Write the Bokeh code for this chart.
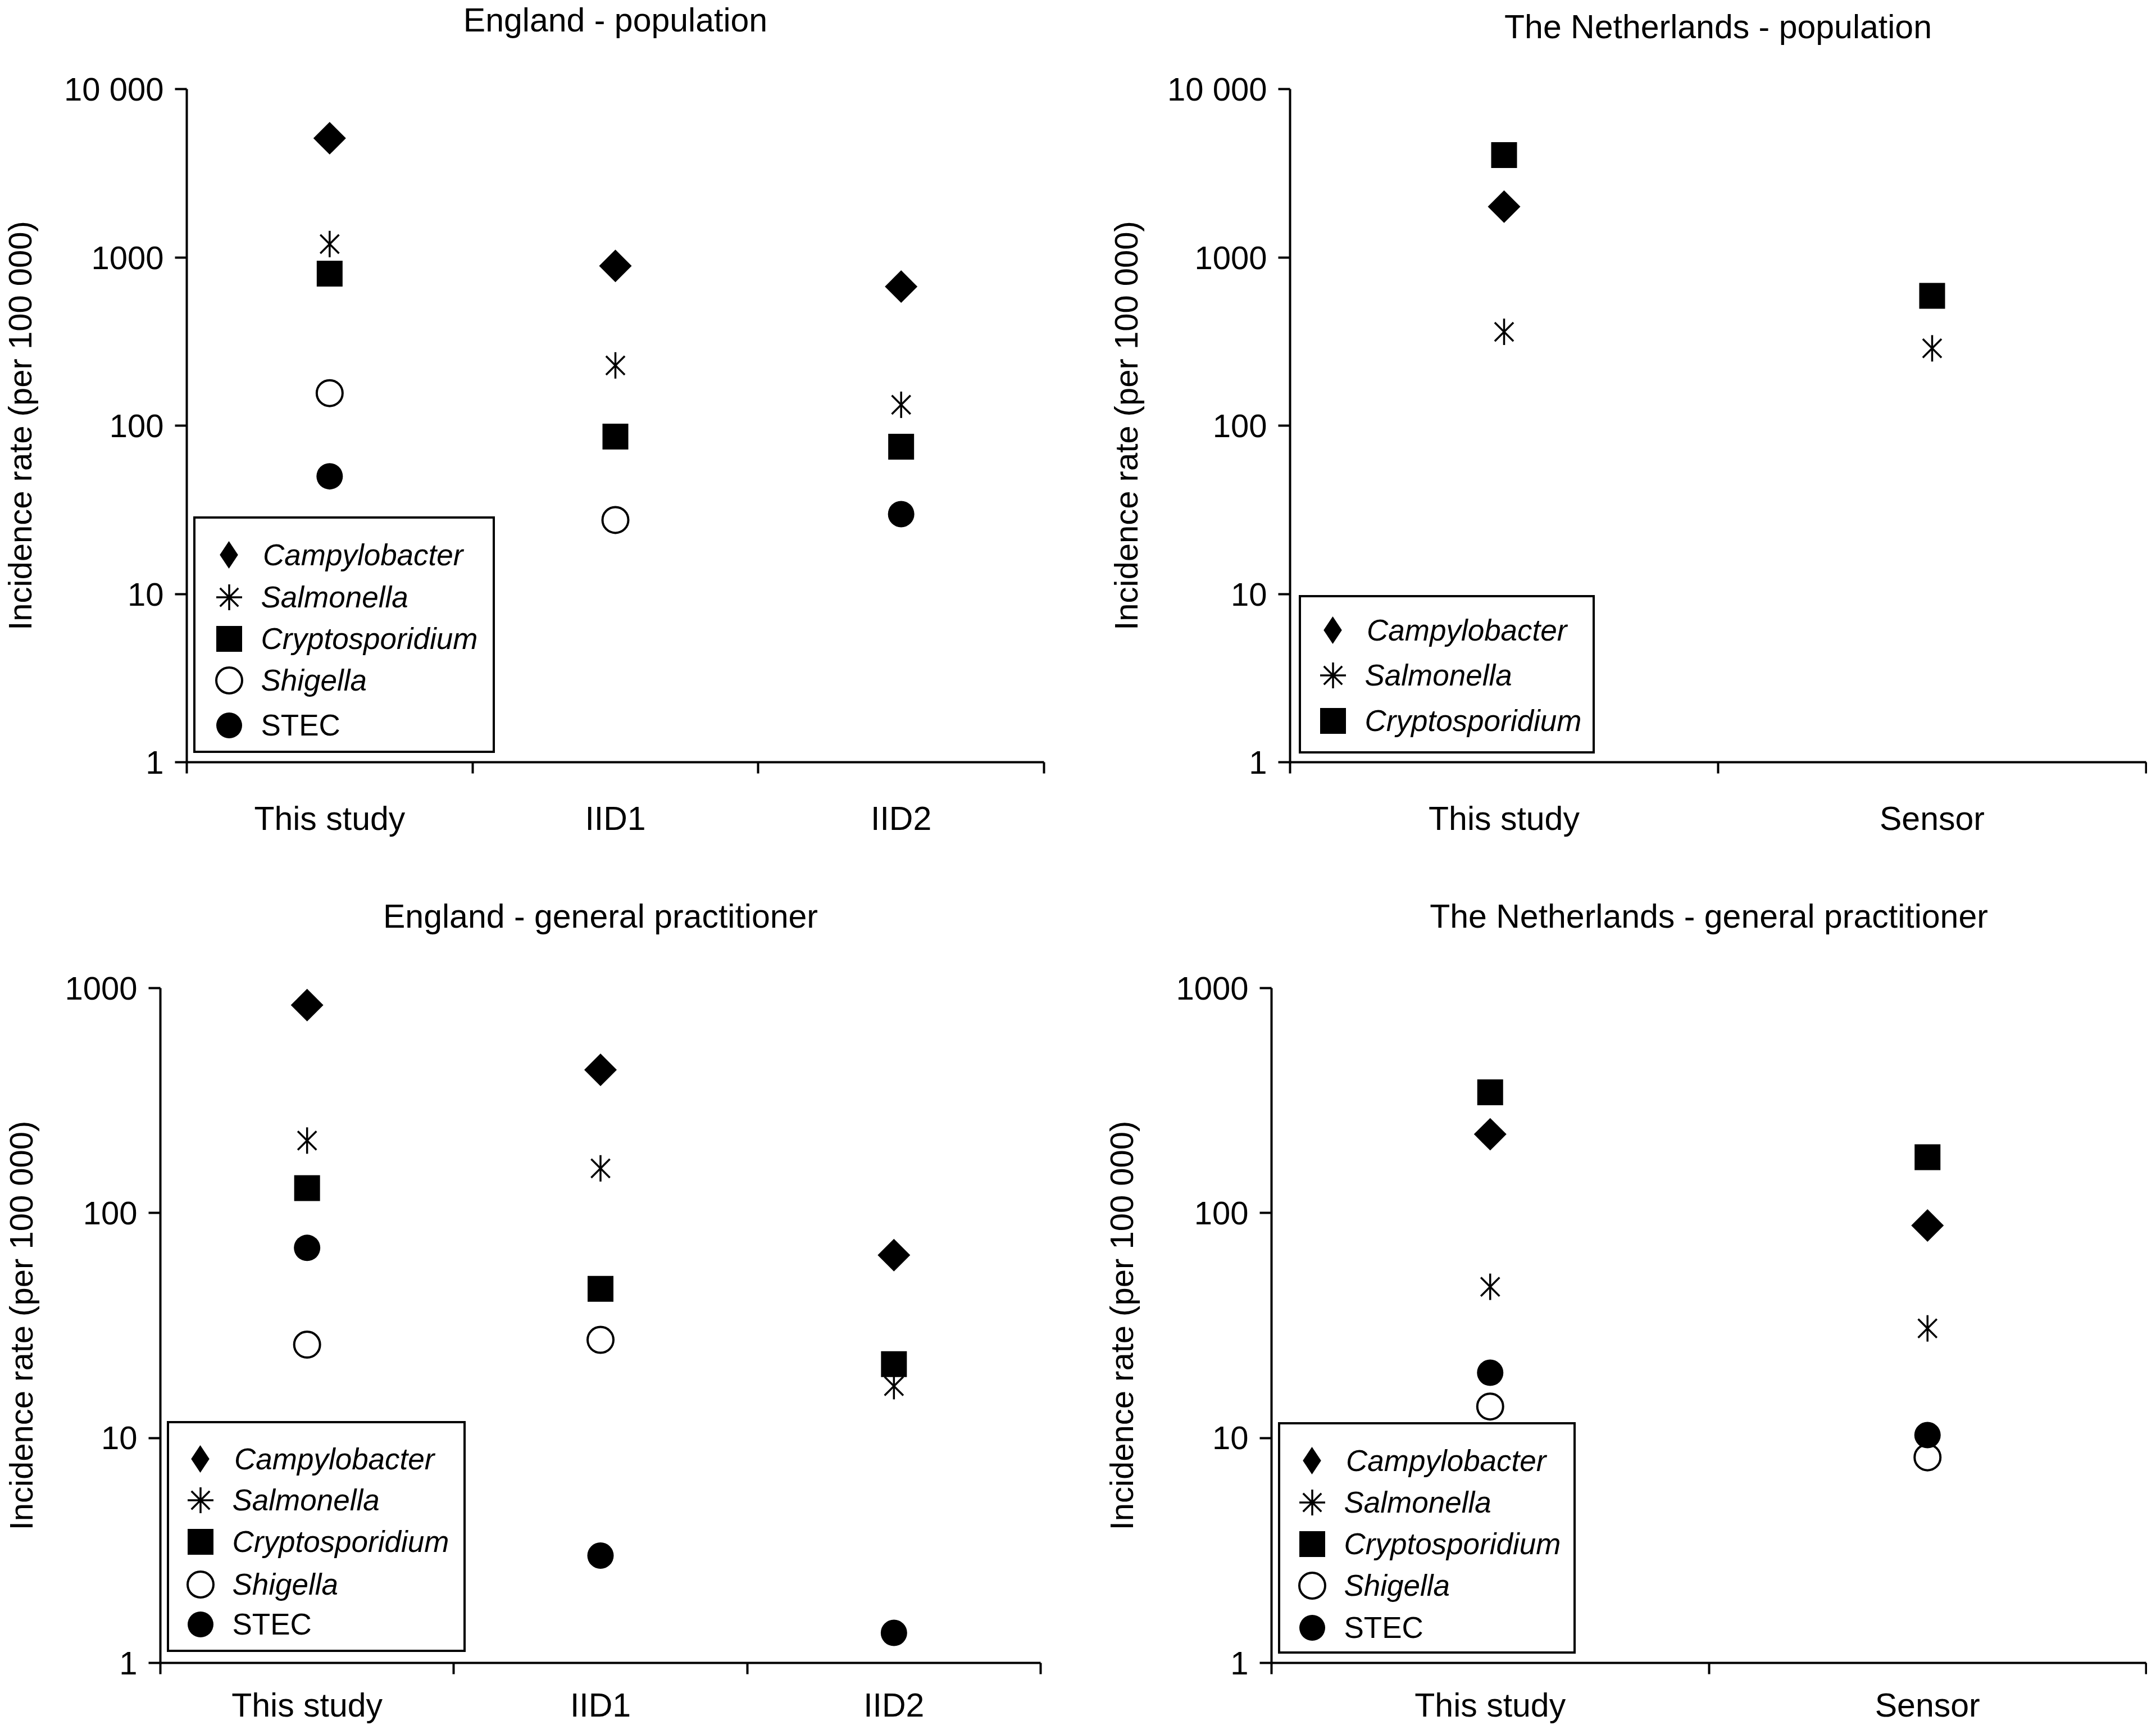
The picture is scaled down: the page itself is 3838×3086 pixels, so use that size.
import math
from bokeh.plotting import figure
from bokeh.layouts import column, row
from bokeh.models import Range1d, FixedTicker, LinearAxis, Legend, LegendItem, ColumnDataSource
from bokeh.embed import file_html
from bokeh.resources import INLINE

FONT = "Liberation Sans"

# ---------------- data ----------------
eng_categories = ["This study", "IID1", "IID2"]
nl_categories = ["This study", "Sensor"]

eng_pop_campylobacter = [5100, 890, 670]
eng_pop_salmonella = [1200, 228, 133]
eng_pop_cryptosporidium = [800, 86, 75]
eng_pop_shigella = [156, 27.5, None]
eng_pop_stec = [50, None, 29.8]

nl_pop_campylobacter = [2000, None]
nl_pop_salmonella = [361, 288]
nl_pop_cryptosporidium = [4050, 591]

eng_gp_campylobacter = [840, 433, 65]
eng_gp_salmonella = [210, 158, 17]
eng_gp_cryptosporidium = [129, 46, 21.3]
eng_gp_shigella = [26, 27.3, None]
eng_gp_stec = [70, 3.0, 1.36]

nl_gp_campylobacter = [224, 88]
nl_gp_salmonella = [47, 30.7]
nl_gp_cryptosporidium = [344, 177]
nl_gp_shigella = [13.8, 8.2]
nl_gp_stec = [19.5, 10.3]

pop_yticks = [1, 10, 100, 1000, 10000]
pop_ylabels = ["1", "10", "100", "1000", "10 000"]
gp_yticks = [1, 10, 100, 1000]
gp_ylabels = ["1", "10", "100", "1000"]

y_axis_label = "Incidence rate (per 100 000)"

# ---------------- styles ----------------
# markers drawn in the plot
STYLE = {
    "Campylobacter": [dict(marker="square", size=41, angle=math.pi / 4, fill_color="black", line_color=None)],
    "Salmonella": [dict(marker="x", size=47, line_color="black", line_width=3.5),
                   dict(marker="dash", size=47, angle=math.pi / 2, line_color="black", line_width=3.5)],
    "Cryptosporidium": [dict(marker="square", size=46, fill_color="black", line_color=None)],
    "Shigella": [dict(marker="circle", size=46, fill_color="white", line_color="black", line_width=4)],
    "STEC": [dict(marker="circle", size=47, fill_color="black", line_color=None)],
}
# legend swatches where the plot marker relies on rotation (legends draw markers unrotated)
LEGEND_STYLE = {
    "Campylobacter": [dict(marker="diamond", fill_color="black", line_color=None)],
    "Salmonella": [dict(marker="asterisk", line_color="black", line_width=3.5)],
}
# legend glyph box size (legend marker size = 0.4 * box)
LEGEND_GLYPH_BOX = {"Campylobacter": 122}
DEFAULT_GLYPH_BOX = 115


def make_panel(title, cats, series, yticks, ylabels, w, h, mb, title_pad, ylab_standoff,
               xlab_standoff, leg_box, leg_rows, leg_glyph_dx, leg_text_dx):
    n = len(cats)
    p = figure(width=w, height=h, x_range=Range1d(0, 2 * n), y_range=Range1d(yticks[0], yticks[-1]),
               y_axis_type="log", output_backend="svg", toolbar_location=None,
               min_border_left=mb[0], min_border_right=mb[1], min_border_top=mb[2], min_border_bottom=mb[3],
               background_fill_color="white", border_fill_color="white")
    p.grid.visible = False
    p.outline_line_color = None

    p.title.text = title
    p.title.align = "center"
    p.title.text_font = FONT
    p.title.text_font_size = "59px"
    p.title.text_font_style = "normal"
    p.title.text_color = "black"
    p.title.standoff = 0
    p.title.padding = dict(left=0, right=0, top=0, bottom=title_pad)

    # x axis: boundary ticks between categories
    xa = p.xaxis[0]
    bounds = [2 * i for i in range(n + 1)]
    xa.ticker = FixedTicker(ticks=bounds)
    xa.major_label_overrides = {b: "" for b in bounds}
    xa.major_label_text_font_size = "1px"
    xa.major_label_standoff = 0
    xa.major_tick_out = 20
    xa.major_tick_in = 0
    xa.minor_tick_line_color = None
    xa.axis_line_width = 4
    xa.major_tick_line_width = 4
    xa.axis_line_color = "black"
    xa.major_tick_line_color = "black"

    # x axis: category labels at the category centres
    centers = [2 * i + 1 for i in range(n)]
    xl = LinearAxis(ticker=FixedTicker(ticks=centers),
                    major_label_overrides={c: lab for c, lab in zip(centers, cats)},
                    axis_line_color=None, major_tick_line_color=None, minor_tick_line_color=None,
                    major_tick_out=0, major_tick_in=0, major_label_standoff=xlab_standoff,
                    major_label_text_font=FONT, major_label_text_font_size="59px",
                    major_label_text_color="black")
    p.add_layout(xl, "below")

    # y axis
    ya = p.yaxis[0]
    ya.ticker = FixedTicker(ticks=yticks)
    ya.major_label_overrides = {t: l for t, l in zip(yticks, ylabels)}
    ya.major_label_text_font = FONT
    ya.major_label_text_font_size = "58px"
    ya.major_label_text_color = "black"
    ya.major_label_standoff = 20
    ya.major_tick_out = 21
    ya.major_tick_in = 0
    ya.minor_tick_line_color = None
    ya.axis_line_width = 4
    ya.major_tick_line_width = 4
    ya.axis_line_color = "black"
    ya.major_tick_line_color = "black"
    ya.axis_label = y_axis_label
    ya.axis_label_text_font = FONT
    ya.axis_label_text_font_size = "58px"
    ya.axis_label_text_font_style = "normal"
    ya.axis_label_text_color = "black"
    ya.axis_label_standoff = ylab_standoff

    # data markers
    legend_entries = []
    first_src = None
    for name, vals in series:
        xs = [2 * i + 1 for i, v in enumerate(vals) if v is not None]
        ys = [v for v in vals if v is not None]
        src = ColumnDataSource(dict(x=xs, y=ys))
        if first_src is None:
            first_src = src
        rs = [p.scatter("x", "y", source=src, **st) for st in STYLE[name]]
        if name in LEGEND_STYLE:
            rs = [p.scatter("x", "y", source=src, visible=False, **st) for st in LEGEND_STYLE[name]]
        legend_entries.append((name, rs))

    # legend frame (box only)
    bx, by, bw, bh = leg_box
    frame_r = p.scatter("x", "y", source=first_src, visible=False, marker="circle",
                        fill_alpha=0, line_alpha=0)
    box = Legend(items=[LegendItem(label=" ", renderers=[frame_r])], location=(bx, by),
                 margin=0, padding=0, glyph_width=bw, glyph_height=bh, label_standoff=0,
                 label_width=0, label_height=0, label_text_font_size="1px",
                 border_line_color="black", border_line_alpha=1.0, border_line_width=4,
                 background_fill_color="white", background_fill_alpha=1.0)
    p.add_layout(box, "center")

    # legend rows
    for (name, rs), row_off in zip(legend_entries, leg_rows):
        g = LEGEND_GLYPH_BOX.get(name, DEFAULT_GLYPH_BOX)
        lg = Legend(items=[LegendItem(label=name, renderers=rs)],
                    location=(leg_glyph_dx - g / 2, row_off - g / 2),
                    margin=0, padding=0, glyph_width=g, glyph_height=g,
                    label_standoff=max(0, int(round(leg_text_dx - leg_glyph_dx - g / 2))),
                    label_width=20, label_height=20,
                    label_text_font=FONT, label_text_font_size="53px", label_text_color="black",
                    label_text_font_style="normal" if name == "STEC" else "italic",
                    border_line_color=None, background_fill_alpha=0.0)
        p.add_layout(lg, "center")
    return p


p1 = make_panel("England - population", eng_categories,
                [("Campylobacter", eng_pop_campylobacter), ("Salmonella", eng_pop_salmonella),
                 ("Cryptosporidium", eng_pop_cryptosporidium), ("Shigella", eng_pop_shigella),
                 ("STEC", eng_pop_stec)],
                pop_yticks, pop_ylabels, 1908, 1525, (319, 50, 151, 169), 90, 43, 47,
                (12, 16, 529, 413), [369, 294, 220, 146, 66], 75, 130)

p2 = make_panel("The Netherlands - population", nl_categories,
                [("Campylobacter", nl_pop_campylobacter), ("Salmonella", nl_pop_salmonella),
                 ("Cryptosporidium", nl_pop_cryptosporidium)],
                pop_yticks, pop_ylabels, 1914, 1525, (388, 2, 151, 169), 78, 38, 47,
                (16, 15, 519, 274), [235, 155, 74], 76, 126)

p3 = make_panel("England - general practitioner", eng_categories,
                [("Campylobacter", eng_gp_campylobacter), ("Salmonella", eng_gp_salmonella),
                 ("Cryptosporidium", eng_gp_cryptosporidium), ("Shigella", eng_gp_shigella),
                 ("STEC", eng_gp_stec)],
                gp_yticks, gp_ylabels, 1908, 1545, (285, 56, 233, 110), 95, 42, 22,
                (12, 19, 524, 403), [363, 290, 216, 140, 69], 71, 126)

p4 = make_panel("The Netherlands - general practitioner", nl_categories,
                [("Campylobacter", nl_gp_campylobacter), ("Salmonella", nl_gp_salmonella),
                 ("Cryptosporidium", nl_gp_cryptosporidium), ("Shigella", nl_gp_shigella),
                 ("STEC", nl_gp_stec)],
                gp_yticks, gp_ylabels, 1914, 1545, (355, 2, 233, 110), 95, 61, 22,
                (12, 16, 522, 404), [360, 286, 212, 138, 63], 72, 127)

layout = column(row(p1, p2), row(p3, p4))
open("out.html", "w").write(file_html(layout, INLINE))
